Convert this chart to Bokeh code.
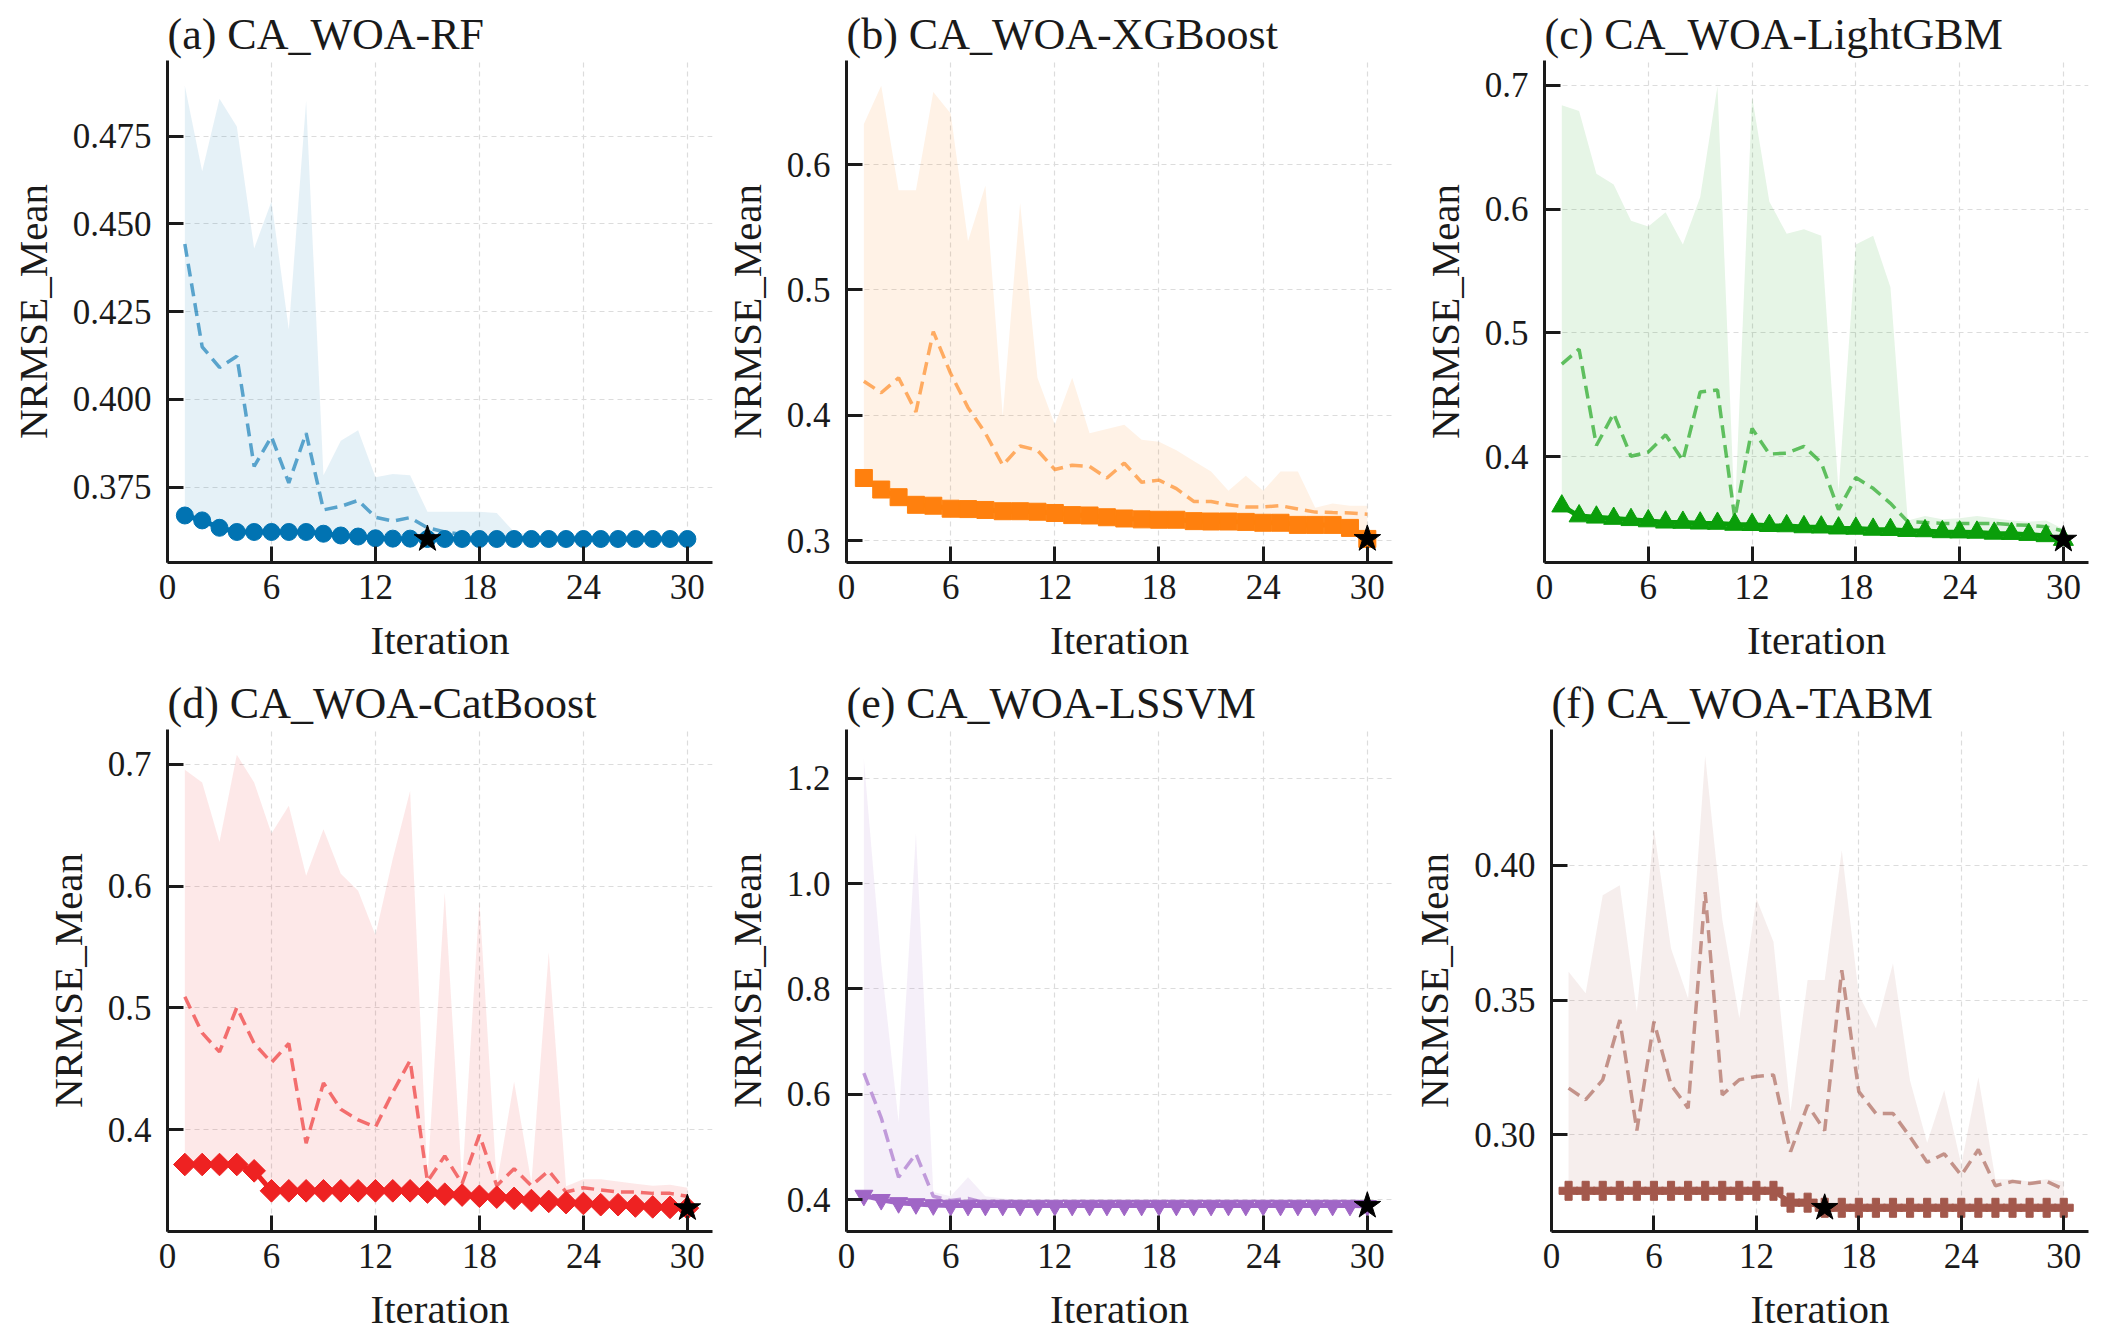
from bokeh.plotting import figure
from bokeh.layouts import column, row
from bokeh.models import FixedTicker, PrintfTickFormatter
from bokeh.embed import file_html
from bokeh.resources import INLINE

iterations = list(range(1, 31))
x_ticks = [0, 6, 12, 18, 24, 30]
FONT = "Liberation Serif"

# (a) CA_WOA-RF
rf_best = [0.3669, 0.3655, 0.3634, 0.3622, 0.3622, 0.3622, 0.3622, 0.3622, 0.3617, 0.3612,
           0.3609, 0.3604, 0.3603, 0.3603, 0.3602, 0.3602, 0.3602, 0.3602, 0.3602, 0.3602,
           0.3602, 0.3602, 0.3602, 0.3602, 0.3602, 0.3602, 0.3602, 0.3602, 0.3602, 0.3602]
rf_mean = [0.4443, 0.4150, 0.4091, 0.4123, 0.3809, 0.3894, 0.3762, 0.3904, 0.3685, 0.3695,
           0.3712, 0.3664, 0.3653, 0.3663, 0.3634, 0.3622, 0.3615, 0.3612, 0.3610, 0.3607,
           0.3605, 0.3604, 0.3604, 0.3603, 0.3603, 0.3603, 0.3603, 0.3602, 0.3602, 0.3602]
rf_upper = [0.4894, 0.4650, 0.4857, 0.4778, 0.4430, 0.4565, 0.4199, 0.4851, 0.3784, 0.3882,
            0.3912, 0.3778, 0.3787, 0.3784, 0.3680, 0.3680, 0.3680, 0.3680, 0.3676, 0.3622,
            0.3615, 0.3612, 0.3610, 0.3608, 0.3607, 0.3606, 0.3605, 0.3605, 0.3604, 0.3604]
rf_yticks = [0.375, 0.400, 0.425, 0.450, 0.475]

# (b) CA_WOA-XGBoost
xgb_best = [0.3500, 0.3408, 0.3347, 0.3286, 0.3279, 0.3255, 0.3252, 0.3245, 0.3235, 0.3235,
            0.3231, 0.3221, 0.3204, 0.3201, 0.3187, 0.3177, 0.3170, 0.3167, 0.3167, 0.3156,
            0.3153, 0.3153, 0.3150, 0.3143, 0.3143, 0.3126, 0.3126, 0.3126, 0.3102, 0.3014]
xgb_mean = [0.4272, 0.4180, 0.4299, 0.4027, 0.4667, 0.4333, 0.4061, 0.3857, 0.3602, 0.3755,
            0.3721, 0.3568, 0.3602, 0.3592, 0.3500, 0.3619, 0.3466, 0.3483, 0.3415, 0.3313,
            0.3313, 0.3286, 0.3269, 0.3269, 0.3279, 0.3252, 0.3228, 0.3224, 0.3221, 0.3211]
xgb_upper = [0.6323, 0.6629, 0.5796, 0.5796, 0.6578, 0.6408, 0.5388, 0.5830, 0.3993, 0.5694,
             0.4299, 0.3925, 0.4299, 0.3857, 0.3891, 0.3925, 0.3806, 0.3789, 0.3721, 0.3636,
             0.3551, 0.3398, 0.3517, 0.3398, 0.3551, 0.3551, 0.3262, 0.3296, 0.3279, 0.3279]
xgb_yticks = [0.3, 0.4, 0.5, 0.6]

# (c) CA_WOA-LightGBM
lgbm_best = [0.3600, 0.3520, 0.3510, 0.3500, 0.3490, 0.3480, 0.3470, 0.3468, 0.3462, 0.3460,
             0.3452, 0.3450, 0.3442, 0.3440, 0.3432, 0.3430, 0.3422, 0.3420, 0.3412, 0.3410,
             0.3402, 0.3400, 0.3392, 0.3390, 0.3388, 0.3380, 0.3378, 0.3370, 0.3360, 0.3330]
lgbm_mean = [0.4747, 0.4868, 0.4090, 0.4349, 0.4003, 0.4038, 0.4176, 0.3969, 0.4522, 0.4539,
             0.3502, 0.4228, 0.4021, 0.4028, 0.4083, 0.3952, 0.3571, 0.3831, 0.3744, 0.3623,
             0.3475, 0.3468, 0.3461, 0.3461, 0.3461, 0.3461, 0.3450, 0.3445, 0.3433, 0.3399]
lgbm_upper = [0.6838, 0.6793, 0.6285, 0.6198, 0.5905, 0.5860, 0.5974, 0.5714, 0.6095, 0.6993,
              0.3510, 0.6907, 0.6060, 0.5801, 0.5836, 0.5784, 0.3720, 0.5714, 0.5784, 0.5369,
              0.3485, 0.3520, 0.3495, 0.3502, 0.3520, 0.3502, 0.3485, 0.3475, 0.3485, 0.3416]
lgbm_yticks = [0.4, 0.5, 0.6, 0.7]

# (d) CA_WOA-CatBoost
cat_best = [0.3714, 0.3714, 0.3714, 0.3714, 0.3662, 0.3498, 0.3498, 0.3498, 0.3498, 0.3498,
            0.3498, 0.3498, 0.3498, 0.3498, 0.3488, 0.3470, 0.3463, 0.3453, 0.3446, 0.3436,
            0.3418, 0.3411, 0.3401, 0.3394, 0.3384, 0.3384, 0.3373, 0.3366, 0.3362, 0.3356]
cat_mean = [0.5091, 0.4794, 0.4638, 0.5003, 0.4707, 0.4551, 0.4707, 0.3889, 0.4383, 0.4167,
            0.4080, 0.4021, 0.4307, 0.4568, 0.3575, 0.3784, 0.3557, 0.3958, 0.3540, 0.3679,
            0.3540, 0.3662, 0.3488, 0.3523, 0.3505, 0.3488, 0.3488, 0.3477, 0.3477, 0.3453]
cat_upper = [0.6955, 0.6850, 0.6362, 0.7077, 0.6850, 0.6432, 0.6659, 0.6084, 0.6467, 0.6101,
             0.5962, 0.5596, 0.6223, 0.6780, 0.3590, 0.5944, 0.3570, 0.5875, 0.3555, 0.4394,
             0.3565, 0.5456, 0.3535, 0.3592, 0.3592, 0.3575, 0.3557, 0.3540, 0.3547, 0.3523]
cat_yticks = [0.4, 0.5, 0.6, 0.7]

# (e) CA_WOA-LSSVM
lssvm_best = [0.4080, 0.4000, 0.3940, 0.3920, 0.3900, 0.3890, 0.3890, 0.3890, 0.3890, 0.3890,
              0.3890, 0.3890, 0.3890, 0.3890, 0.3890, 0.3890, 0.3890, 0.3890, 0.3890, 0.3890,
              0.3890, 0.3890, 0.3890, 0.3890, 0.3890, 0.3890, 0.3890, 0.3890, 0.3890, 0.3885]
lssvm_mean = [0.6401, 0.5555, 0.4427, 0.4870, 0.4064, 0.3984, 0.4024, 0.3940, 0.3930, 0.3925,
              0.3920, 0.3918, 0.3915, 0.3915, 0.3912, 0.3912, 0.3910, 0.3910, 0.3910, 0.3908,
              0.3908, 0.3908, 0.3907, 0.3907, 0.3906, 0.3906, 0.3906, 0.3905, 0.3905, 0.3905]
lssvm_upper = [1.2364, 0.8500, 0.5475, 1.0954, 0.4145, 0.4064, 0.4427, 0.4064, 0.4024, 0.3990,
               0.3975, 0.3972, 0.3970, 0.3968, 0.3966, 0.3965, 0.3964, 0.3963, 0.3962, 0.3962,
               0.3961, 0.3961, 0.3960, 0.3960, 0.3960, 0.3960, 0.3960, 0.3960, 0.3960, 0.3960]
lssvm_yticks = [0.4, 0.6, 0.8, 1.0, 1.2]

# (f) CA_WOA-TABM
tabm_best = [0.2792, 0.2792, 0.2792, 0.2792, 0.2792, 0.2792, 0.2792, 0.2792, 0.2792, 0.2792,
             0.2792, 0.2792, 0.2792, 0.2748, 0.2748, 0.2729, 0.2729, 0.2729, 0.2729, 0.2729,
             0.2729, 0.2729, 0.2729, 0.2729, 0.2729, 0.2729, 0.2729, 0.2729, 0.2729, 0.2729]
tabm_mean = [0.3173, 0.3130, 0.3204, 0.3426, 0.3016, 0.3420, 0.3185, 0.3099, 0.3900, 0.3148,
             0.3204, 0.3216, 0.3222, 0.2937, 0.3110, 0.3016, 0.3611, 0.3160, 0.3079, 0.3079,
             0.2992, 0.2898, 0.2929, 0.2850, 0.2945, 0.2811, 0.2827, 0.2819, 0.2827, 0.2798]
tabm_upper = [0.3605, 0.3525, 0.3889, 0.3926, 0.3457, 0.4136, 0.3691, 0.3506, 0.4407, 0.3800,
              0.3432, 0.3877, 0.3716, 0.3086, 0.3574, 0.3574, 0.4056, 0.3519, 0.3395, 0.3636,
              0.3200, 0.2970, 0.3165, 0.2890, 0.3213, 0.2835, 0.2835, 0.2827, 0.2835, 0.2827]
tabm_yticks = [0.30, 0.35, 0.40]

panels = [
    dict(title="(a) CA_WOA-RF", best=rf_best, mean=rf_mean, upper=rf_upper, color="#0173B2",
         marker="circle", size=17, angle=0, yr=(0.3535, 0.4966), ticks=rf_yticks, fmt="%.3f", star=15),
    dict(title="(b) CA_WOA-XGBoost", best=xgb_best, mean=xgb_mean, upper=xgb_upper, color="#FF800E",
         marker="square", size=17, angle=0, yr=(0.2826, 0.683), ticks=xgb_yticks, fmt="%.1f", star=30),
    dict(title="(c) CA_WOA-LightGBM", best=lgbm_best, mean=lgbm_mean, upper=lgbm_upper, color="#0A9E0A",
         marker="triangle", size=20, angle=0, yr=(0.3145, 0.72), ticks=lgbm_yticks, fmt="%.1f", star=30),
    dict(title="(d) CA_WOA-CatBoost", best=cat_best, mean=cat_mean, upper=cat_upper, color="#EE2222",
         marker="square", size=16, angle=0.7854, yr=(0.3164, 0.7285), ticks=cat_yticks, fmt="%.1f", star=30),
    dict(title="(e) CA_WOA-LSSVM", best=lssvm_best, mean=lssvm_mean, upper=lssvm_upper, color="#A066C6",
         marker="inverted_triangle", size=18, angle=0, yr=(0.3396, 1.2926), ticks=lssvm_yticks, fmt="%.1f", star=30),
    dict(title="(f) CA_WOA-TABM", best=tabm_best, mean=tabm_mean, upper=tabm_upper, color="#A3584C",
         marker="plus", size=19, angle=0, yr=(0.2641, 0.4504), ticks=tabm_yticks, fmt="%.2f", star=16),
]

col_w = [716, 692, 689]
col_left = [167, 130, 136]
col_right = [4, 16, 9]
row_h = [674, 660]
row_top = [60, 54]
row_bottom = [112, 100]


def make_panel(cfg, ci, ri):
    p = figure(width=col_w[ci], height=row_h[ri], x_range=(0, 31.45), y_range=cfg["yr"],
               output_backend="svg", toolbar_location=None,
               min_border_left=col_left[ci], min_border_right=col_right[ci],
               min_border_top=row_top[ri], min_border_bottom=row_bottom[ri])
    p.outline_line_color = None
    p.background_fill_color = "white"
    p.title.text = cfg["title"]
    p.title.text_font = FONT
    p.title.text_font_size = "44px"
    p.title.text_font_style = "normal"
    p.title.text_color = "#1a1a1a"
    p.title.align = "left"
    p.title.standoff = 4

    c = cfg["color"]
    p.varea(x=iterations, y1=cfg["best"], y2=cfg["upper"], fill_color=c, fill_alpha=0.1)
    p.line(iterations, cfg["mean"], line_color=c, line_alpha=0.62, line_width=3.5, line_dash="13 7")
    p.line(iterations, cfg["best"], line_color=c, line_width=5)
    p.scatter(iterations, cfg["best"], marker=cfg["marker"], size=cfg["size"], angle=cfg["angle"],
              fill_color=c, line_color=c)
    sx = cfg["star"]
    p.scatter([sx], [cfg["best"][sx - 1]], marker="star", size=28, color="black")

    p.xaxis.ticker = FixedTicker(ticks=x_ticks)
    p.yaxis.ticker = FixedTicker(ticks=cfg["ticks"])
    p.yaxis.formatter = PrintfTickFormatter(format=cfg["fmt"])
    p.xaxis.axis_label = "Iteration"
    p.yaxis.axis_label = "NRMSE_Mean"
    for ax in (p.xaxis, p.yaxis):
        ax.axis_line_width = 3
        ax.axis_line_color = "#1a1a1a"
        ax.major_tick_in = 16
        ax.major_tick_out = 0
        ax.major_tick_line_width = 3
        ax.major_tick_line_color = "#1a1a1a"
        ax.minor_tick_line_color = None
        ax.major_label_text_font = FONT
        ax.major_label_text_font_size = "35px"
        ax.major_label_text_color = "#1a1a1a"
        ax.axis_label_text_font = FONT
        ax.axis_label_text_font_size = "41px"
        ax.axis_label_text_font_style = "normal"
        ax.axis_label_text_color = "#1a1a1a"
    p.xaxis.major_label_standoff = 12
    p.xaxis.axis_label_standoff = 15
    p.yaxis.major_label_standoff = 16
    p.yaxis.axis_label_standoff = 14
    for g in (p.xgrid, p.ygrid):
        g.grid_line_color = "#dcdcdc"
        g.grid_line_dash = "5 4"
        g.grid_line_width = 1.2
    return p


figs = [make_panel(cfg, i % 3, i // 3) for i, cfg in enumerate(panels)]
layout = column(row(*figs[:3]), row(*figs[3:]))

open("out.html", "w").write(file_html(layout, INLINE))
